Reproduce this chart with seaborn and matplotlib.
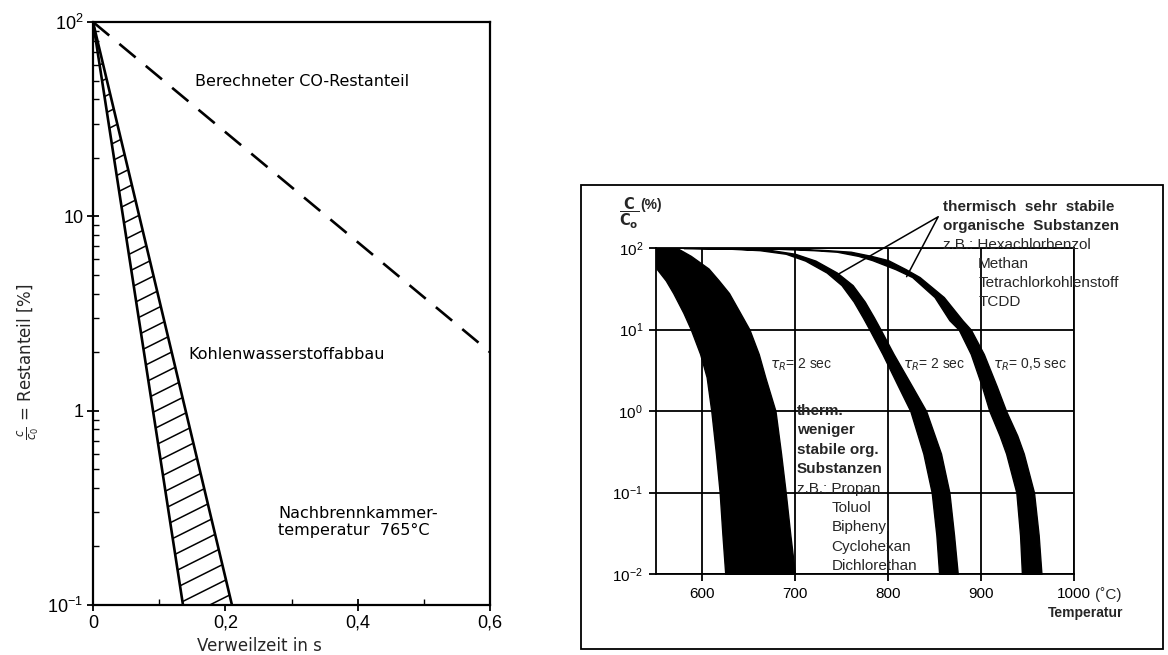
import numpy as np
import matplotlib
matplotlib.use("Agg")
import matplotlib.pyplot as plt
from matplotlib.collections import LineCollection
from matplotlib.patches import Rectangle
from matplotlib.ticker import MultipleLocator, LogLocator, NullLocator
import seaborn as sns

# ---- left chart: Restanteil vs Verweilzeit (765 °C) ----
co_time = [0.0, 0.6]
co_conc = [100.0, 2.0]
hc_conc = [100.0, 0.1]
hc_time_fast = [0.0, 0.136]
hc_time_slow = [0.0, 0.21]
left_xticks = [0.0, 0.2, 0.4, 0.6]
left_xlabels = ["0", "0,2", "0,4", "0,6"]
left_yticks = [0.1, 1, 10, 100]
left_ylabels = [r"$\mathdefault{10^{-1}}$", "1", "10", r"$\mathdefault{10^{2}}$"]

# ---- right chart: C/Co (%) vs Temperatur, three bands ----
band1_conc = [100, 80, 56, 40, 28, 16, 10, 5, 2.6, 1, 0.3, 0.1, 0.03, 0.01]
band1_left = [550, 550, 551, 561, 569, 580, 588, 598, 605, 610, 615, 619, 622, 625]
band1_right = [573, 588, 607, 618, 629, 641, 651, 661, 668, 679, 685, 690, 695, 700]

band2_conc = [100, 98, 94, 85, 70, 50, 35, 22, 14, 10, 5, 2, 1, 0.3, 0.1, 0.03, 0.01]
band2_left = [580, 630, 662, 690, 711, 734, 750, 763, 773, 780, 794, 811, 824, 838, 847, 852, 855]
band2_right = [590, 640, 675, 700, 722, 745, 762, 775, 785, 792, 806, 826, 841, 857, 866, 871, 875]

band3_conc = [100, 98, 94, 90, 80, 71, 55, 44, 25, 13, 10, 5, 2, 1, 0.5, 0.3, 0.1, 0.03, 0.01]
band3_left = [600, 680, 720, 745, 768, 783, 808, 826, 850, 866, 876, 889, 901, 909, 920, 927, 938, 942, 944]
band3_right = [610, 700, 735, 760, 782, 800, 819, 834, 860, 880, 889, 903, 917, 927, 939, 946, 957, 962, 965]

right_xticks = [600, 700, 800, 900, 1000]
right_xlabels = ["600", "700", "800", "900", "1000"]
right_yticks = [0.01, 0.1, 1, 10, 100]
right_ylabels = [r"$\mathdefault{10^{-2}}$", r"$\mathdefault{10^{-1}}$", r"$\mathdefault{10^{0}}$",
                 r"$\mathdefault{10^{1}}$", r"$\mathdefault{10^{2}}$"]

tau_labels = [r"$\tau_R$= 2 sec", r"$\tau_R$= 2 sec", r"$\tau_R$= 0,5 sec"]
tau_temp = [673, 816, 913]
tau_conc = [3.7, 3.7, 3.7]

leader_temp = [745, 854, 820]
leader_conc = [46.6, 242, 44.5]

stable_head = ["thermisch  sehr  stabile", "organische  Substanzen", "z.B.: Hexachlorbenzol"]
stable_list = ["Methan", "Tetrachlorkohlenstoff", "TCDD"]
weak_head = ["therm.", "weniger", "stabile org.", "Substanzen", "z.B.: Propan"]
weak_list = ["Toluol", "Biphenyl", "Cyclohexan", "Dichlorethan"]

W, H = 1168, 655
sns.set_theme(style="ticks")
plt.rcParams["font.family"] = ["Liberation Sans", "DejaVu Sans"]
plt.rcParams["mathtext.fontset"] = "dejavusans"

fig = plt.figure(figsize=(W / 100, H / 100), dpi=100)
fig.patch.set_facecolor("white")

def fx(px):
    return px / W

def fy(py):
    return 1 - py / H

# ================= left =================
axl = fig.add_axes([fx(93), fy(605), fx(490) - fx(93), fy(22) - fy(605)])
axl.set_yscale("log")
axl.set_facecolor("white")

sns.lineplot(x=co_time, y=co_conc, ax=axl, color="black", lw=1.9,
             linestyle=(0, (8, 5)), legend=False)

poly = axl.fill_betweenx(hc_conc, hc_time_fast, hc_time_slow, facecolor="white",
                         edgecolor="none")
sns.lineplot(x=hc_time_fast, y=hc_conc, ax=axl, sort=False, color="black", lw=1.9)
sns.lineplot(x=hc_time_slow, y=hc_conc, ax=axl, sort=False, color="black", lw=1.9)

# hatch: parallel strokes clipped to the band
slope = 0.5 * 397 / 583
segs = [[(0, c), (1, c + slope)] for c in np.arange(-0.45, 1.0, 17 / 583)]
lc = LineCollection(segs, colors="black", linewidths=1.1, transform=axl.transAxes)
axl.add_collection(lc, autolim=False)
lc.set_clip_path(poly.get_paths()[0], axl.transData)

axl.set_xlim(0, 0.6)
axl.set_ylim(0.1, 100)
axl.set_xticks(left_xticks, labels=left_xlabels)
axl.set_yticks(left_yticks, labels=left_ylabels)
axl.xaxis.set_minor_locator(MultipleLocator(0.1))
axl.yaxis.set_minor_locator(LogLocator(subs=np.arange(2, 10)))
axl.yaxis.set_minor_formatter(plt.NullFormatter())
axl.tick_params(which="major", direction="inout", length=8, width=1.3,
                labelsize=13, pad=3, colors="black")
axl.tick_params(which="minor", direction="in", length=4, width=1.0, colors="black")
for s in axl.spines.values():
    s.set_linewidth(1.6)
    s.set_color("black")
    s.set_visible(True)

ltxt = dict(family=["DejaVu Sans"], fontsize=11.5, color="black", va="center", ha="left")
axl.text(0.154, 49.7, "Berechneter CO-Restanteil", **ltxt)
axl.text(0.1436, 1.95, "Kohlenwasserstoffabbau", **ltxt)
axl.text(0.2796, 0.267, "Nachbrennkammer-\ntemperatur  765°C", linespacing=1.15, **ltxt)

fig.text(fx(28), fy(362), r"$\frac{c}{c_0}$ = Restanteil [%]", rotation=90,
         family=["DejaVu Sans"], fontsize=12, ha="center", va="center")
fig.text(fx(259), fy(646), "Verweilzeit in s", family=["DejaVu Sans"],
         fontsize=12, ha="center", va="center")

# ================= right =================
fig.add_artist(Rectangle((fx(581), fy(649)), fx(1163) - fx(581), fy(185) - fy(649),
                         transform=fig.transFigure, fill=False, lw=1.3, ec="black"))

axr = fig.add_axes([fx(655.5), fy(574), fx(1074) - fx(655.5), fy(248) - fy(574)])
axr.set_yscale("log")
axr.set_facecolor("white")
axr.set_xlim(550, 1000)
axr.set_ylim(0.01, 100)

for conc, lft, rgt in [(band1_conc, band1_left, band1_right),
                       (band2_conc, band2_left, band2_right),
                       (band3_conc, band3_left, band3_right)]:
    axr.fill_betweenx(conc, lft, rgt, facecolor="black", edgecolor="black", lw=1.0,
                      zorder=3)

sns.lineplot(x=leader_temp, y=leader_conc, ax=axr, sort=False, color="black",
             lw=1.1, clip_on=False, zorder=4)

axr.set_xticks(right_xticks, labels=right_xlabels)
axr.set_yticks(right_yticks, labels=right_ylabels)
axr.yaxis.set_minor_locator(NullLocator())
axr.grid(True, which="major", color="black", lw=1.3)
axr.tick_params(which="major", direction="out", length=5, width=1.3, labelsize=11,
                pad=4, colors="black")
for s in axr.spines.values():
    s.set_linewidth(1.3)
    s.set_color("black")
    s.set_visible(True)

def stack(lines, x, conc, start, step_px, weight):
    for i, s in enumerate(lines):
        axr.annotate(s, xy=(x, conc), xycoords="data",
                     xytext=(0, -(start + i) * step_px * 0.72), textcoords="offset points",
                     fontsize=11, fontweight=weight, ha="left", va="center",
                     annotation_clip=False, zorder=5)

top_c = 10 ** 2.503
stack(stable_head[:2], 859, top_c, 0, 19, "bold")
stack(stable_head[2:], 859, top_c, 2, 19, "normal")
stack(stable_list, 897, top_c, 3, 19, "normal")
stack(weak_head[:4], 702, 1.0, 0, 19.4, "bold")
stack(weak_head[4:], 702, 1.0, 4, 19.4, "normal")
stack(weak_list, 739, 1.0, 5, 19.4, "normal")

for lab, t, c in zip(tau_labels, tau_temp, tau_conc):
    axr.text(t, c, lab, fontsize=10, ha="left", va="center", zorder=5)

fig.text(fx(619), fy(213), r"$\dfrac{\mathbf{C}}{\mathbf{C_o}}$", fontsize=10.5,
         ha="left", va="center")
fig.text(fx(640), fy(205), "(%)", fontsize=10, fontweight="bold",
         ha="left", va="center")
fig.text(fx(1095), fy(595), "(˚C)", fontsize=11, ha="left", va="center")
fig.text(fx(1123), fy(613), "Temperatur", fontsize=10, fontweight="bold",
         ha="right", va="center")

fig.savefig("out.png", dpi=100)
